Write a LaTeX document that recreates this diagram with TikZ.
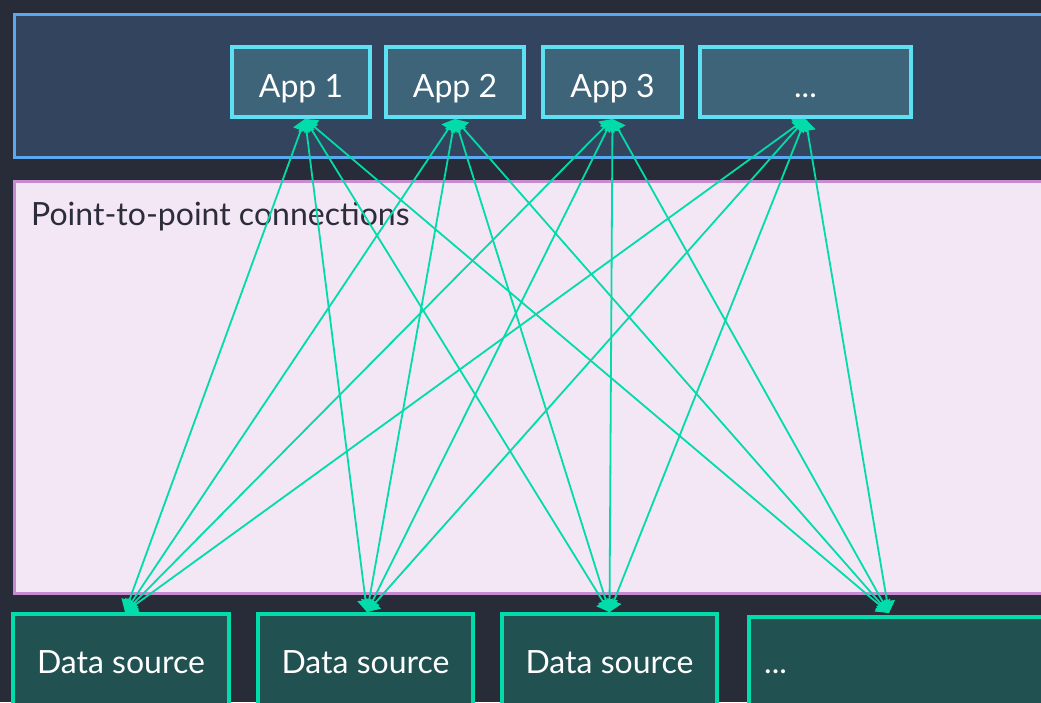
\documentclass[tikz,border=0pt]{standalone}
\usepackage{fontspec}
\setmainfont{Lato}
\usetikzlibrary{arrows.meta}
\definecolor{bgc}{HTML}{282C38}
\definecolor{topfill}{HTML}{33445E}
\definecolor{topline}{HTML}{5AA8F0}
\definecolor{appfill}{HTML}{3D6479}
\definecolor{appline}{HTML}{5CE0F2}
\definecolor{pinkfill}{HTML}{F3E6F5}
\definecolor{pinkline}{HTML}{C68BD1}
\definecolor{dsfill}{HTML}{225152}
\definecolor{dsline}{HTML}{01DCAA}
\definecolor{darktext}{HTML}{2C2C3A}
\tikzset{
  container/.style={draw=topline, fill=topfill, line width=3.5pt, inner sep=0pt},
  pinkbox/.style={draw=pinkline, fill=pinkfill, line width=3pt, inner sep=0pt},
  appbox/.style={draw=appline, fill=appfill, line width=3.8pt, inner sep=0pt, minimum height=70pt},
  dsbox/.style={draw=dsline, fill=dsfill, line width=3.8pt, inner sep=0pt, minimum height=98pt},
  boxtext/.style={text=white, font=\fontsize{32}{38}\selectfont, inner sep=0pt, anchor=base},
  link/.style={draw=dsline, line width=1.8pt, {Triangle[width=16pt,length=12pt]}-{Triangle[width=16pt,length=12pt]}}
}
\begin{document}
\begin{tikzpicture}[x=1pt,y=-1pt]
\useasboundingbox (0,0) rectangle (1041,702);
\clip (0,0) rectangle (1041,702);
\fill[bgc] (0,0) rectangle (1041,702);
\node[container, minimum width=1100pt, minimum height=143pt, anchor=north west] (top) at (12.8,12.8) {};
\node[pinkbox, minimum width=1100pt, minimum height=412pt, anchor=north west] (pink) at (12.5,179.5) {};
\node[anchor=base west, text=darktext, font=\fontsize{32}{38}\selectfont, inner sep=0pt] (lbl) at (31,225) {Point-to-point connections};
\node[appbox, minimum width=138pt] (a1) at (301,82) {};
\node[appbox, minimum width=138pt] (a2) at (455,82) {};
\node[appbox, minimum width=139pt] (a3) at (612.5,82) {};
\node[appbox, minimum width=211pt] (a4) at (805.5,82) {};
\node[boxtext] (a1t) at (301,97) {App 1};
\node[boxtext] (a2t) at (455,97) {App 2};
\node[boxtext] (a3t) at (612.5,97) {App 3};
\node[boxtext] (a4t) at (805.5,97) {...};
\node[dsbox, minimum width=216pt] (d1) at (121,663) {};
\node[dsbox, minimum width=215pt] (d2) at (365.5,663) {};
\node[dsbox, minimum width=215pt] (d3) at (609.5,663) {};
\node[dsbox, minimum width=330pt, anchor=north west] (d4) at (746.9,614.9) {};
\node[boxtext] (d1t) at (121,673) {Data source};
\node[boxtext] (d2t) at (365.5,673) {Data source};
\node[boxtext] (d3t) at (609.5,673) {Data source};
\node[boxtext, anchor=base west] (d4t) at (764,673) {...};
\coordinate (t1) at ([xshift=4pt]a1.south);
\coordinate (t2) at (a2.south);
\coordinate (t3) at (a3.south);
\coordinate (t4) at (a4.south);
\coordinate (b1) at ([xshift=4pt]d1.north);
\coordinate (b2) at ([xshift=1.5pt]d2.north);
\coordinate (b3) at (d3.north);
\coordinate (b4) at (889,613);
\foreach \i in {1,2,3,4}{
  \foreach \j in {1,2,3,4}{
    \draw[link] (t\i) -- (b\j);
  }
}
\end{tikzpicture}
\end{document}
